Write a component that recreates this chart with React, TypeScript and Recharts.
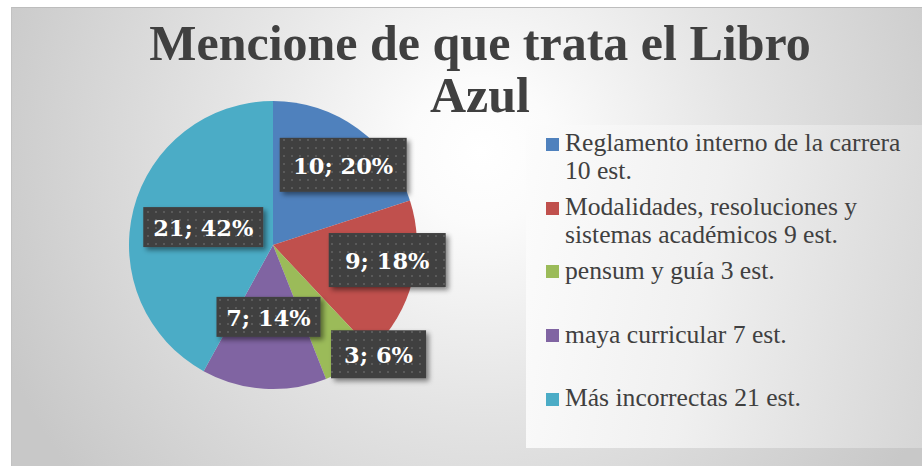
import React from "react";
import { PieChart, Pie, Cell } from "recharts";

// ---- data ----
const categories = [
  "Reglamento interno de la carrera",
  "Modalidades, resoluciones y sistemas académicos",
  "pensum y guía",
  "maya curricular",
  "Más incorrectas",
];
const students = [10, 9, 3, 7, 21];
const unitSuffix = "est.";
const titleText = "Mencione de que trata el Libro Azul";

// ---- styles / layout (not data) ----
const COLORS = ["#4f81bd", "#c0504d", "#9bbb59", "#8064a2", "#4bacc6"];
const LABEL_RADIUS = [0.74, 0.8, 1.055, 0.5, 0.5];
const LABEL_ANGLE_SHIFT = [-5.2, 6.9, 11.6, 0, 0];
const LABEL_BOX = [
  [127, 54],
  [117, 54],
  [95, 48],
  [104, 40],
  [120, 40],
];

const pieData = categories.map((name, i) => ({ name, value: students[i] }));
const total = students.reduce((a, b) => a + b, 0);

const RAD = Math.PI / 180;

const renderLabel = (props: any) => {
  const { cx, cy, midAngle, outerRadius, index, value } = props;
  const ang = (midAngle + LABEL_ANGLE_SHIFT[index]) * RAD;
  const r = outerRadius * LABEL_RADIUS[index];
  const x = cx + r * Math.cos(ang);
  const y = cy - r * Math.sin(ang);
  const [w, h] = LABEL_BOX[index];
  const pct = Math.round((value / total) * 100);
  return (
    <g key={`lbl-${index}`}>
      <rect
        x={x - w / 2}
        y={y - h / 2}
        width={w}
        height={h}
        fill="url(#dotPattern)"
        filter="url(#lblShadow)"
      />
      <text
        x={x}
        y={y + 1}
        textAnchor="middle"
        dominantBaseline="central"
        fill="#ffffff"
        fontFamily="'DejaVu Serif', serif"
        fontWeight="bold"
        fontSize={22.5}
      >
        {`${value}; ${pct}%`}
      </text>
    </g>
  );
};

export default function App() {
  return (
    <div
      style={{
        position: "absolute",
        left: 0,
        top: 0,
        width: 922,
        height: 466,
        background: "#ffffff",
        overflow: "hidden",
      }}
    >
      <div
        style={{
          position: "absolute",
          left: 11,
          top: 7,
          width: 911,
          height: 459,
          borderTop: "1px solid #bdbdbd",
          borderLeft: "1px solid #c2c2c2",
          boxSizing: "border-box",
          background:
            "radial-gradient(circle 520px at 469px 143px, #ffffff 0%, #fbfbfb 14%, #e4e4e4 50%, #c8c8c8 100%)",
        }}
      />
      <div style={{ position: "absolute", left: 0, top: 0 }}>
        <PieChart width={922} height={466} margin={{ top: 0, right: 0, bottom: 0, left: 0 }}>
          <defs>
            <pattern id="dotPattern" x="0" y="0" width="8" height="8" patternUnits="userSpaceOnUse">
              <rect x="0" y="0" width="8" height="8" fill="#404040" />
              <rect x="3" y="3" width="2" height="2" fill="#5a5a5a" />
            </pattern>
            <filter id="lblShadow" x="-20%" y="-20%" width="150%" height="160%">
              <feDropShadow dx="3" dy="3" stdDeviation="2.5" floodColor="#000000" floodOpacity="0.45" />
            </filter>
          </defs>
          <Pie
            data={pieData}
            dataKey="value"
            nameKey="name"
            cx={273}
            cy={245}
            outerRadius={144}
            startAngle={90}
            endAngle={-270}
            stroke="none"
            label={renderLabel}
            labelLine={false}
            isAnimationActive={false}
          >
            {pieData.map((_, i) => (
              <Cell key={i} fill={COLORS[i]} />
            ))}
          </Pie>
        </PieChart>
      </div>
      <div
        style={{
          position: "absolute",
          left: 130,
          top: 17,
          width: 700,
          textAlign: "center",
          fontFamily: "'Liberation Serif', serif",
          fontWeight: "bold",
          fontSize: 50,
          lineHeight: "52px",
          color: "#404040",
        }}
      >
        {titleText}
      </div>
      <div
        style={{
          position: "absolute",
          left: 526,
          top: 125,
          width: 396,
          height: 323,
          background: "linear-gradient(100deg, #fcfcfc 0%, #f0f0f0 45%, #d6d6d6 100%)",
        }}
      >
        {categories.map((name, i) => (
          <div
            key={name}
            style={{ position: "absolute", left: 0, top: 4.4 + i * 63.75, width: 396, height: 63 }}
          >
            <div
              style={{
                position: "absolute",
                left: 20,
                top: 8.5,
                width: 13,
                height: 13,
                background: COLORS[i],
              }}
            />
            <div
              style={{
                position: "absolute",
                left: 39,
                top: 0,
                width: 352,
                fontFamily: "'Liberation Serif', serif",
                fontSize: 25.6,
                lineHeight: "28px",
                color: "#404040",
              }}
            >
              {`${name} ${students[i]} ${unitSuffix}`}
            </div>
          </div>
        ))}
      </div>
    </div>
  );
}
